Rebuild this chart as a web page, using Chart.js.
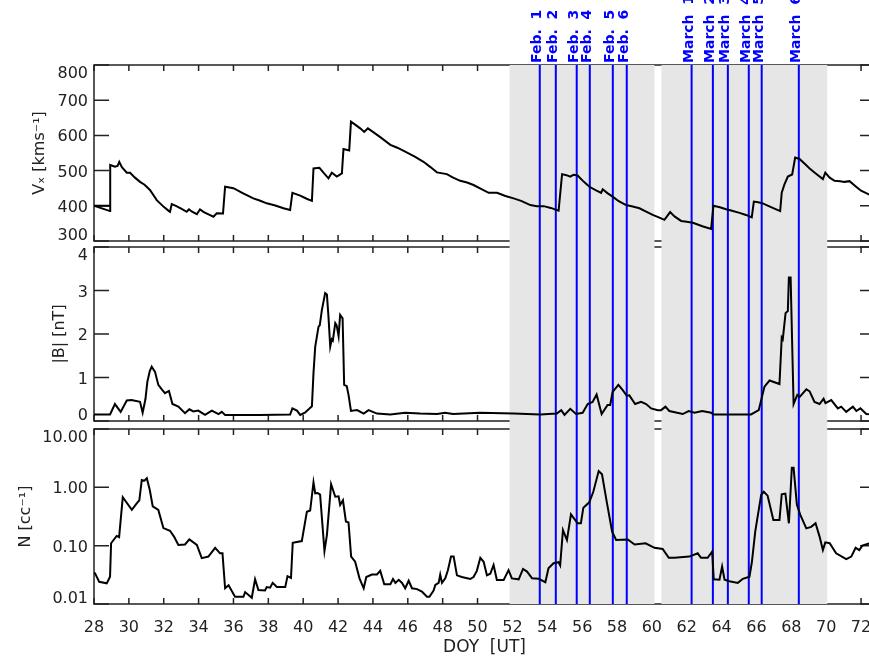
<!DOCTYPE html>
<html>
<head>
<meta charset="utf-8">
<script src="https://cdn.jsdelivr.net/npm/chart.js@4.4.1/dist/chart.umd.min.js"></script>
<style>
  body { margin: 0; background: #fff; overflow: hidden; width: 869px; height: 664px; }
  .panel { position: absolute; left: 0; }
</style>
</head>
<body>
<div class="panel" style="top:0"><canvas id="c1" width="900" height="244"></canvas></div>
<div class="panel" style="top:244px"><canvas id="c2" width="900" height="181"></canvas></div>
<div class="panel" style="top:425px"><canvas id="c3" width="900" height="239"></canvas></div>
<script>
// day-of-year tick marks on the time axis
const xTicks = [28, 30, 32, 34, 36, 38, 40, 42, 44, 46, 48, 50, 52, 54, 56, 58, 60, 62, 64, 66, 68, 70, 72];

// shaded intervals and the marked events
const shadeRanges = [[51.84, 60.15], [60.55, 70.06]];
const eventDays = [53.57, 54.49, 55.69, 56.44, 57.76, 58.56, 62.28, 63.5, 64.36, 65.56, 66.3, 68.43];
const eventLabels = ["Feb.  1", "Feb.  2", "Feb.  3", "Feb.  4", "Feb.  5", "Feb.  6",
                     "March  1", "March  2", "March  3", "March  4", "March  5", "March  6"];

// y tick values and their labels per panel
const vxTicks = [300, 400, 500, 600, 700, 800];
const vxTickLabels = ["300", "400", "500", "600", "700", "800"];
const bTicks = [0, 1, 2, 3, 4];
const bTickLabels = ["0", "1", "2", "3", "4"];
const nTicks = [0.01, 0.1, 1, 10];
const nTickLabels = ["0.01", "0.10", "1.00", "10.00"];

// [DOY, Vx km/s]
const vxSeries = [
  [28.92,400],[28.0,400],[28.92,385],[28.93,516],[29.2,511],[29.35,513],[29.45,525],[29.6,510],[29.88,494],[30.07,494],
  [30.35,480],[30.64,468],[30.9,460],[31.21,445],[31.6,416],[32.0,397],[32.3,385],[32.36,383],[32.46,405],[32.7,400],
  [33.0,392],[33.32,383],[33.45,390],[33.6,384],[33.9,376],[34.08,390],[34.3,382],[34.6,375],[34.85,369],[35.04,379],
  [35.4,378],[35.52,454],[36.0,450],[36.5,437],[37.14,421],[37.5,415],[37.91,407],[38.4,401],[38.87,393],[39.25,388],
  [39.38,437],[39.83,429],[40.2,420],[40.5,414],[40.59,506],[40.93,508],[41.2,492],[41.45,478],[41.64,494],[41.93,483],
  [42.22,492],[42.31,561],[42.64,557],[42.74,639],[43.0,630],[43.27,620],[43.5,610],[43.71,620],[44.0,610],[44.42,595],
  [45.0,573],[45.4,565],[45.85,554],[46.4,540],[46.9,525],[47.3,510],[47.67,495],[48.24,490],[48.6,480],[49.01,471],
  [49.4,466],[49.77,459],[50.2,448],[50.64,437],[51.12,437],[51.6,428],[52.07,421],[52.5,414],[53.03,402],[53.4,399],
  [53.8,399],[54.2,394],[54.65,386],[54.85,490],[55.1,487],[55.32,483],[55.5,488],[55.74,486],[56.1,468],[56.42,454],
  [56.8,444],[57.09,437],[57.18,447],[57.45,436],[57.75,426],[58.1,413],[58.52,402],[58.9,398],[59.29,393],[59.7,383],
  [60.05,374],[60.4,367],[60.72,360],[61.05,382],[61.3,370],[61.68,357],[62.0,355],[62.35,352],[62.9,342],[63.4,334],
  [63.53,400],[63.9,396],[64.26,390],[64.6,386],[65.03,380],[65.4,374],[65.73,367],[65.85,412],[66.1,410],[66.36,407],
  [66.9,395],[67.36,385],[67.45,437],[67.6,460],[67.8,483],[68.05,489],[68.22,537],[68.47,533],[68.8,518],[69.05,506],
  [69.4,492],[69.81,476],[69.95,494],[70.2,480],[70.48,471],[70.8,470],[71.05,468],[71.34,470],[71.7,455],[72.0,443],
  [72.5,431],[72.8,428]
];

// [DOY, |B| nT]
const bSeries = [
  [28.0,0.15],[28.92,0.15],[29.2,0.39],[29.53,0.21],[29.88,0.47],[30.15,0.48],[30.64,0.44],[30.79,0.19],[30.95,0.5],
  [31.06,0.9],[31.2,1.15],[31.31,1.25],[31.5,1.13],[31.69,0.83],[31.9,0.72],[32.07,0.64],[32.3,0.69],[32.5,0.39],
  [32.84,0.33],[33.22,0.18],[33.47,0.27],[33.7,0.22],[33.98,0.24],[34.37,0.14],[34.76,0.24],[35.14,0.16],[35.33,0.21],
  [35.52,0.14],[37.5,0.14],[39.25,0.15],[39.38,0.29],[39.64,0.24],[39.83,0.14],[40.1,0.19],[40.5,0.34],[40.59,1.1],
  [40.69,1.71],[40.88,2.17],[40.95,2.2],[41.07,2.55],[41.26,2.94],[41.36,2.91],[41.45,2.4],[41.55,1.71],[41.64,1.88],
  [41.7,1.85],[41.84,2.25],[41.92,2.2],[42.03,1.95],[42.12,2.44],[42.26,2.36],[42.35,0.83],[42.5,0.8],[42.6,0.6],
  [42.74,0.23],[43.09,0.25],[43.47,0.17],[43.75,0.25],[44.23,0.17],[45.0,0.15],[45.85,0.19],[46.7,0.17],[47.67,0.16],
  [48.14,0.19],[48.6,0.16],[50.16,0.19],[52.07,0.17],[53.6,0.15],[54.55,0.17],[54.8,0.25],[54.99,0.14],[55.32,0.28],
  [55.65,0.16],[56.03,0.19],[56.32,0.39],[56.6,0.44],[56.83,0.61],[57.12,0.16],[57.46,0.37],[57.61,0.37],[57.75,0.67],
  [58.08,0.83],[58.33,0.71],[58.56,0.58],[58.71,0.59],[59.04,0.39],[59.38,0.44],[59.67,0.39],[59.96,0.29],[60.34,0.25],
  [60.53,0.25],[60.78,0.33],[61.0,0.23],[61.77,0.16],[62.11,0.23],[62.45,0.19],[62.89,0.23],[63.4,0.19],[63.53,0.15],
  [65.69,0.15],[66.13,0.25],[66.46,0.79],[66.75,0.93],[67.32,0.85],[67.45,1.92],[67.51,1.88],[67.67,2.48],[67.8,2.53],
  [67.86,3.3],[67.96,3.3],[68.13,0.39],[68.34,0.6],[68.47,0.55],[68.86,0.73],[69.05,0.68],[69.33,0.44],[69.62,0.39],
  [69.85,0.51],[69.96,0.41],[70.29,0.48],[70.67,0.29],[70.86,0.33],[71.15,0.21],[71.53,0.33],[71.73,0.23],[71.96,0.29],
  [72.3,0.16],[72.8,0.15]
];

// [DOY, N cc^-1]
const nSeries = [
  [28.0,0.034],[28.06,0.0336],[28.3,0.024],[28.73,0.0226],[28.92,0.0294],[28.98,0.11],[29.3,0.147],[29.44,0.14],
  [29.65,0.675],[30.17,0.41],[30.45,0.53],[30.6,0.6],[30.74,1.34],[30.89,1.3],[31.03,1.43],[31.2,0.9],[31.37,0.47],
  [31.69,0.41],[31.98,0.2],[32.36,0.18],[32.59,0.143],[32.84,0.103],[33.22,0.105],[33.47,0.128],[33.9,0.103],
  [34.18,0.061],[34.56,0.065],[34.95,0.092],[35.23,0.074],[35.37,0.074],[35.52,0.0186],[35.72,0.021],[36.09,0.0133],
  [36.57,0.0133],[36.67,0.016],[37.05,0.0128],[37.24,0.0265],[37.43,0.0174],[37.81,0.017],[37.91,0.0195],[38.1,0.019],
  [38.25,0.023],[38.49,0.0195],[38.97,0.0195],[39.1,0.03],[39.3,0.028],[39.4,0.112],[39.92,0.12],[40.21,0.38],[40.4,0.4],
  [40.59,1.22],[40.69,0.79],[40.83,0.8],[40.97,0.75],[41.22,0.081],[41.36,0.152],[41.6,1.13],[41.84,0.69],[42.03,0.7],
  [42.12,0.5],[42.28,0.6],[42.45,0.26],[42.6,0.25],[42.75,0.065],[42.98,0.053],[43.23,0.0275],[43.47,0.0186],[43.62,0.029],
  [43.94,0.032],[44.23,0.032],[44.42,0.037],[44.65,0.0218],[45.0,0.0218],[45.15,0.0268],[45.29,0.023],[45.48,0.026],
  [45.67,0.023],[45.85,0.0186],[46.05,0.025],[46.24,0.0186],[46.53,0.018],[46.81,0.0163],[47.1,0.0133],[47.24,0.0133],
  [47.48,0.017],[47.58,0.0212],[47.77,0.023],[47.86,0.032],[47.96,0.023],[48.15,0.0275],[48.3,0.038],[48.48,0.065],
  [48.63,0.065],[48.82,0.031],[49.1,0.029],[49.58,0.0268],[49.77,0.029],[49.96,0.037],[50.16,0.062],[50.35,0.053],
  [50.54,0.031],[50.73,0.033],[50.92,0.0466],[51.11,0.0258],[51.5,0.0258],[51.78,0.038],[51.97,0.0275],[52.36,0.0265],
  [52.61,0.04],[52.84,0.036],[53.13,0.0275],[53.51,0.027],[53.89,0.0236],[54.07,0.041],[54.36,0.05],[54.65,0.052],
  [54.74,0.046],[54.9,0.185],[55.13,0.125],[55.36,0.344],[55.74,0.242],[55.93,0.242],[56.07,0.448],[56.41,0.553],
  [56.64,0.84],[56.95,1.9],[57.14,1.67],[57.41,0.57],[57.72,0.174],[57.95,0.125],[58.62,0.128],[59.01,0.105],[59.64,0.11],
  [60.15,0.092],[60.62,0.088],[60.97,0.062],[61.29,0.062],[62.15,0.065],[62.63,0.074],[62.82,0.062],[63.2,0.062],
  [63.46,0.079],[63.55,0.0265],[63.88,0.026],[64.03,0.0437],[64.17,0.026],[64.45,0.0246],[64.93,0.023],[65.22,0.027],
  [65.6,0.0294],[65.74,0.053],[65.93,0.174],[66.27,0.74],[66.42,0.84],[66.64,0.72],[66.97,0.275],[67.32,0.275],[67.45,0.76],
  [67.66,0.78],[67.86,0.242],[68.03,2.17],[68.13,2.17],[68.32,0.5],[68.51,0.34],[68.86,0.198],[69.14,0.21],[69.39,0.242],
  [69.62,0.143],[69.81,0.084],[69.95,0.114],[70.2,0.11],[70.57,0.074],[71.15,0.059],[71.44,0.065],[71.69,0.092],
  [71.9,0.084],[72.07,0.1],[72.5,0.11],[72.8,0.11]
];

Chart.defaults.font.family = '"DejaVu Sans", sans-serif';
Chart.defaults.font.size = 16;
Chart.defaults.color = '#222';

// box, inward ticks, shading, event lines and y labels drawn from the chart scales
const framePlugin = {
  id: 'frame',
  beforeDatasetsDraw(chart, args, opts) {
    const { ctx, chartArea: a } = chart;
    const x = chart.scales.x, y = chart.scales.y;
    ctx.save();
    ctx.strokeStyle = '#222';
    ctx.lineWidth = 1.5;
    ctx.strokeRect(a.left, a.top, a.right - a.left, a.bottom - a.top);
    ctx.beginPath();
    xTicks.forEach(v => {
      const px = x.getPixelForValue(v);
      ctx.moveTo(px, a.top); ctx.lineTo(px, a.top + 6);
      ctx.moveTo(px, a.bottom); ctx.lineTo(px, a.bottom - 6);
    });
    opts.ticks.forEach(v => {
      const py = y.getPixelForValue(v);
      ctx.moveTo(a.left, py); ctx.lineTo(a.left + 15, py);
      ctx.moveTo(a.right, py); ctx.lineTo(a.right - 15, py);
    });
    ctx.stroke();

    const top = opts.clipTop ? a.top : 0;
    const bottom = opts.clipBottom ? a.bottom : chart.height;
    ctx.fillStyle = '#e6e6e6';
    shadeRanges.forEach(([s, e]) => {
      const x0 = x.getPixelForValue(s), x1 = x.getPixelForValue(e);
      ctx.fillRect(x0, top, x1 - x0, bottom - top);
    });
    ctx.strokeStyle = '#0000ff';
    ctx.lineWidth = 2;
    ctx.beginPath();
    eventDays.forEach(d => {
      const px = x.getPixelForValue(d);
      ctx.moveTo(px, top); ctx.lineTo(px, bottom);
    });
    ctx.stroke();

    ctx.fillStyle = '#222';
    ctx.font = '16px "DejaVu Sans"';
    ctx.textAlign = 'right';
    ctx.textBaseline = 'alphabetic';
    opts.ticks.forEach((v, i) => {
      const py = y.getPixelForValue(v);
      const by = Math.min(Math.max(py + 6, a.top + 13), a.bottom - 1);
      ctx.fillText(opts.labels[i], a.left - 6, by);
    });
    ctx.restore();
  },
  afterDraw(chart, args, opts) {
    if (!opts.events) return;
    const { ctx, chartArea: a } = chart;
    const x = chart.scales.x;
    ctx.save();
    ctx.fillStyle = '#0000ff';
    ctx.font = 'bold 14px "DejaVu Sans"';
    ctx.textAlign = 'left';
    ctx.textBaseline = 'alphabetic';
    eventDays.forEach((d, i) => {
      const px = x.getPixelForValue(d);
      ctx.save();
      ctx.translate(px + 1.5, a.top - 2);
      ctx.rotate(-Math.PI / 2);
      ctx.fillText(eventLabels[i], 0, 0);
      ctx.restore();
    });
    ctx.restore();
  }
};

function makePanel(id, series, yScale, frameOpts, padding, showX) {
  const xScale = {
    type: 'linear', min: 28, max: 72.8,
    display: showX,
    grid: { display: false }, border: { display: false },
    afterBuildTicks: s => { s.ticks = xTicks.map(v => ({ value: v })); },
    ticks: { autoSkip: false, maxRotation: 0, padding: 6, callback: v => String(v) },
    title: { display: showX, text: 'DOY  [UT]', font: { size: 17 }, padding: { top: 0, bottom: 6 } },
    afterFit: s => { if (showX) s.height = 60; }
  };
  return new Chart(document.getElementById(id), {
    type: 'line',
    data: {
      datasets: [{
        data: series.map(p => ({ x: p[0], y: p[1] })),
        borderColor: '#000', borderWidth: 2, pointRadius: 0, tension: 0, fill: false
      }]
    },
    options: {
      responsive: false, animation: false, events: [],
      layout: { padding: padding },
      scales: { x: xScale, y: yScale },
      plugins: { legend: { display: false }, tooltip: { enabled: false }, frame: frameOpts }
    },
    plugins: [framePlugin]
  });
}

function yAxis(type, min, max, title, titlePad) {
  return {
    type: type, min: min, max: max,
    grid: { display: false }, border: { display: false },
    ticks: { display: false },
    title: { display: true, text: title, padding: { top: titlePad, bottom: 0 } },
    afterFit: s => { s.width = 94; }
  };
}

makePanel('c1', vxSeries, yAxis('linear', 300, 800, 'Vₓ [kms⁻¹]', 30),
  { ticks: vxTicks, labels: vxTickLabels, clipTop: true, clipBottom: false, events: true },
  { top: 65, bottom: 3, left: 0, right: 25 }, false);

makePanel('c2', bSeries, yAxis('linear', 0, 4, '|B| [nT]', 50),
  { ticks: bTicks, labels: bTickLabels, clipTop: false, clipBottom: false, events: false },
  { top: 3, bottom: 4, left: 0, right: 25 }, false);

makePanel('c3', nSeries, yAxis('logarithmic', 0.01, 10, 'N [cc⁻¹]', 16),
  { ticks: nTicks, labels: nTickLabels, clipTop: false, clipBottom: true, events: false },
  { top: 4, bottom: 0, left: 0, right: 25 }, true);
</script>
</body>
</html>
